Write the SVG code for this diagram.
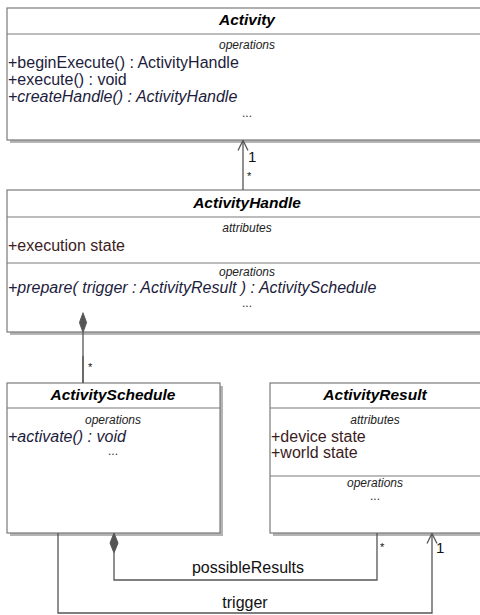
<svg xmlns="http://www.w3.org/2000/svg" width="480" height="615" viewBox="0 0 480 615">
<style>
text{font-family:"Liberation Sans",Arial,Helvetica,sans-serif}
.shadow{fill:#b4b4b4}
.box{fill:#fff;stroke:#7a7a7a;stroke-width:1.2}
.sep{stroke:#7a7a7a;stroke-width:1.2}
.title{font-size:15.5px;font-weight:bold;font-style:italic;fill:#000;text-anchor:middle}
.sec{font-size:12px;font-style:italic;fill:#222;text-anchor:middle}
.op{font-size:16px;fill:#1c1c3c}
.opi{font-size:16px;font-style:italic;fill:#1c1c3c}
.attr{font-size:16px;fill:#3c1c1c}
.dots{font-size:12px;fill:#333;text-anchor:middle}
.edge{fill:none;stroke:#555;stroke-width:1.3}
.lbl{font-size:16px;fill:#111}
.mult{font-size:15px;fill:#111}
.star{font-size:11px;fill:#111}
</style>
<defs>
<marker id="open" viewBox="0 0 12 12" refX="11" refY="6" markerWidth="12" markerHeight="12" markerUnits="userSpaceOnUse" orient="auto">
<path d="M1,1 L11,6 L1,11" fill="none" stroke="#555" stroke-width="1.3"/>
</marker>
<marker id="diamond" viewBox="0 0 24 10" refX="1" refY="5" markerWidth="24" markerHeight="9" markerUnits="userSpaceOnUse" orient="auto">
<path d="M1,5 L12,1 L23,5 L12,9 Z" fill="#555" stroke="#555" stroke-width="1"/>
</marker>
</defs>

<g id="Activity">
<rect class="shadow" x="10" y="11" width="477" height="132"/>
<rect class="box" x="7" y="8" width="480" height="132"/>
<line class="sep" x1="7" y1="34" x2="487" y2="34"/>
<text class="title" x="247" y="25">Activity</text>
<text class="sec" x="247" y="49">operations</text>
<text class="op" x="8" y="68">+beginExecute() : ActivityHandle</text>
<text class="op" x="8" y="85">+execute() : void</text>
<text class="opi" x="8" y="102">+createHandle() : ActivityHandle</text>
<text class="dots" x="247" y="117">...</text>
</g>

<g id="ActivityHandle">
<rect class="shadow" x="10" y="193" width="477" height="142"/>
<rect class="box" x="7" y="190" width="480" height="142"/>
<line class="sep" x1="7" y1="217" x2="487" y2="217"/>
<line class="sep" x1="7" y1="263" x2="487" y2="263"/>
<text class="title" x="247" y="208">ActivityHandle</text>
<text class="sec" x="247" y="232">attributes</text>
<text class="attr" x="8" y="251">+execution state</text>
<text class="sec" x="247" y="276">operations</text>
<text class="opi" x="8" y="293">+prepare( trigger : ActivityResult ) : ActivitySchedule</text>
<text class="dots" x="247" y="307">...</text>
</g>

<g id="ActivitySchedule">
<rect class="shadow" x="10" y="386" width="213" height="150"/>
<rect class="box" x="7" y="383" width="213" height="150"/>
<line class="sep" x1="7" y1="408" x2="220" y2="408"/>
<text class="title" x="113" y="400">ActivitySchedule</text>
<text class="sec" x="113" y="424">operations</text>
<text class="opi" x="8" y="442">+activate() : void</text>
<text class="dots" x="113" y="455">...</text>
</g>

<g id="ActivityResult">
<rect class="shadow" x="273" y="386" width="211" height="150"/>
<rect class="box" x="270" y="383" width="212" height="150"/>
<line class="sep" x1="270" y1="408" x2="482" y2="408"/>
<line class="sep" x1="270" y1="476" x2="482" y2="476"/>
<text class="title" x="375" y="400">ActivityResult</text>
<text class="sec" x="375" y="424">attributes</text>
<text class="attr" x="271" y="442">+device state</text>
<text class="attr" x="271" y="458">+world state</text>
<text class="sec" x="375" y="487">operations</text>
<text class="dots" x="375" y="500">...</text>
</g>

<g id="connectors">
<line class="edge" x1="243" y1="190" x2="243" y2="140.5" marker-end="url(#open)"/>
<text class="mult" x="248" y="162">1</text>
<text class="star" x="247" y="180">*</text>

<line class="edge" x1="83" y1="383" x2="83" y2="332.5" marker-end="url(#diamond)"/>
<path class="edge" d="M83,356 L83,383"/>
<text class="star" x="88" y="371">*</text>

<path class="edge" d="M377,533 L377,580 L114,580 L114,553"/>
<path d="M114,533 L118,543 L114,553 L110,543 Z" fill="#555" stroke="#555" stroke-width="1"/>
<text class="star" x="380" y="551">*</text>
<text class="lbl" x="248" y="573" text-anchor="middle">possibleResults</text>

<path class="edge" d="M58,533 L58,613 L432,613 L432,533.5" marker-end="url(#open)"/>
<text class="mult" x="436" y="553">1</text>
<text class="lbl" x="245" y="608" text-anchor="middle">trigger</text>
</g>
</svg>
